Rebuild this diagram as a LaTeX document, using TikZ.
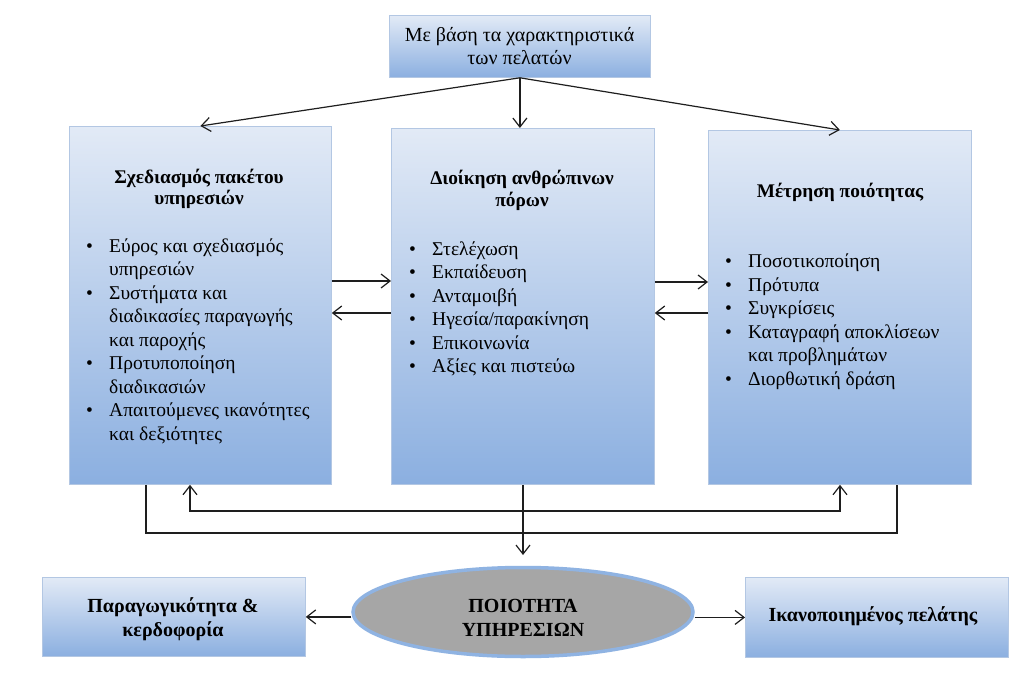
\documentclass[tikz,border=0pt]{standalone}
\usepackage{fontspec}
\setmainfont{Liberation Serif}[BoldFont={Liberation Serif Bold}]
\usetikzlibrary{shapes.geometric,arrows.meta}
\definecolor{boxtop}{HTML}{E2EAF6}
\definecolor{boxbot}{HTML}{8BAFE0}
\definecolor{boxline}{HTML}{B3C7E3}
\definecolor{ellfill}{HTML}{A6A6A6}
\definecolor{ellline}{HTML}{8FB3E2}
\definecolor{ink}{HTML}{1E1E1E}
\newcommand{\itm}[1]{\makebox[23pt][l]{•}#1}
\newcommand{\cnt}[1]{\hspace*{23pt}#1}
\begin{document}
\begin{tikzpicture}[x=1pt,y=-1pt,
  box/.style={draw=boxline, line width=0.8pt, top color=boxtop, bottom color=boxbot,
    anchor=north west, inner sep=0pt},
  body/.style={font=\fontsize{19.5}{23.5}\selectfont, align=left, inner sep=0pt, text=black},
  ttl/.style={font=\fontsize{19.3}{21.5}\selectfont\bfseries, align=center, inner sep=0pt},
  cond/.style={font=\fontsize{20}{24}\selectfont\bfseries, align=center, inner sep=0pt},
  arr/.style={draw=ink, line width=1.2pt, -{Straight Barb[length=9pt,width=14pt]}},
  dbl/.style={draw=ink, line width=1.2pt, {Straight Barb[length=9pt,width=14pt]}-{Straight Barb[length=9pt,width=14pt]}},
  ln/.style={draw=ink, line width=1.2pt}]
\useasboundingbox (0,0) rectangle (1024,679);
\fill[white] (0,0) rectangle (1024,679);

% boxes
\node[box, minimum width=261pt, minimum height=62pt] (top) at (389,15) {};
\node[box, minimum width=262pt, minimum height=358pt] (L) at (69,126) {};
\node[box, minimum width=263pt, minimum height=356pt] (M) at (391,128) {};
\node[box, minimum width=263pt, minimum height=354pt] (R) at (708,130) {};
\node[box, minimum width=263pt, minimum height=79pt] (BL) at (42,577) {};
\node[box, minimum width=263pt, minimum height=80pt] (BR) at (745,577) {};
\node[ellipse, fill=ellfill, draw=ellline, line width=3.5pt, minimum width=340pt, minimum height=89pt, inner sep=0pt] (E) at (523,612) {};

% texts
\node[font=\fontsize{20}{23}\selectfont, align=center, inner sep=0pt] (toptxt) at (519.5,46) {Με βάση τα χαρακτηριστικά\\των πελατών};
\node[ttl] (Lt) at (199,189) {Σχεδιασμός πακέτου\\υπηρεσιών};
\node[ttl] (Mt) at (522,190.5) {Διοίκηση ανθρώπινων\\πόρων};
\node[ttl] (Rt) at (840,192) {Μέτρηση ποιότητας};

\node[body, anchor=base west] (Ll) at (86,440) {\itm{Εύρος και σχεδιασμός}\\\cnt{υπηρεσιών}\\\itm{Συστήματα και}\\\cnt{διαδικασίες παραγωγής}\\\cnt{και παροχής}\\\itm{Προτυποποίηση}\\\cnt{διαδικασιών}\\\itm{Απαιτούμενες ικανότητες}\\\cnt{και δεξιότητες}};
\node[body, anchor=base west] (Ml) at (409,372.5) {\itm{Στελέχωση}\\\itm{Εκπαίδευση}\\\itm{Ανταμοιβή}\\\itm{Ηγεσία/παρακίνηση}\\\itm{Επικοινωνία}\\\itm{Αξίες και πιστεύω}};
\node[body, anchor=base west] (Rl) at (725,385) {\itm{Ποσοτικοποίηση}\\\itm{Πρότυπα}\\\itm{Συγκρίσεις}\\\itm{Καταγραφή αποκλίσεων}\\\cnt{και προβλημάτων}\\\itm{Διορθωτική δράση}};

\node[cond] (BLt) at (173,619) {Παραγωγικότητα \&\\κερδοφορία};
\node[cond] (Et) at (523,618) {ΠΟΙΟΤΗΤΑ\\ΥΠΗΡΕΣΙΩΝ};
\node[cond] (BRt) at (873,616) {Ικανοποιημένος πελάτης};

% connectors from top
\draw[arr] (top.south) -- (L.north);
\draw[arr] (top.south) -- (top.south |- M.north);
\draw[arr] (top.south) -- (R.north);

% horizontal between boxes
\draw[arr] (L.east |- 0,281) -- (M.west |- 0,281);
\draw[arr] (M.west |- 0,313) -- (L.east |- 0,313);
\draw[arr] (M.east |- 0,282) -- (R.west |- 0,282);
\draw[arr] (R.west |- 0,313) -- (M.east |- 0,313);

% bottom feedback lines
\draw[ln] (L.south -| 146,0) |- (897,533) -- (R.south -| 897,0);
\draw[dbl] (L.south -| 190,0) -- (190,511) -- (840,511) -- (R.south -| 840,0);
\coordinate (Etip) at (523,555);
\draw[arr] (M.south -| 523,0) -- (Etip);

% ellipse to bottom boxes
\draw[arr] (BL.east -| E.west) -- (BL.east);
\draw[arr] (BR.west -| E.east) -- (BR.west);
\end{tikzpicture}
\end{document}
